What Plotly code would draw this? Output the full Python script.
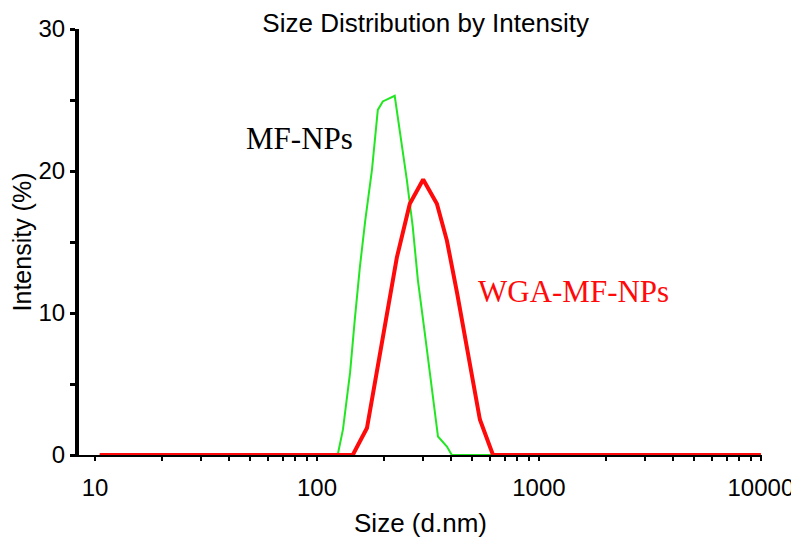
import plotly.graph_objects as go

# size (d.nm) / intensity (%)
mf_size = [10.5, 124, 131, 141, 148, 156, 165, 177, 188, 198, 224, 236, 254,
           270, 285, 306, 329, 351, 385, 405, 10000]
mf_int = [0, 0, 1.8, 5.8, 9.5, 13.2, 16.5, 20.1, 24.3, 24.9, 25.3, 22.9, 19.4,
          16.1, 12.3, 8.6, 4.8, 1.3, 0.6, 0, 0]

wga_size = [10.5, 145, 168, 186, 207, 229, 262, 301, 347, 385, 428, 474, 542,
            621, 10000]
wga_int = [0, 0, 1.9, 5.8, 10.0, 13.9, 17.7, 19.4, 17.7, 15.1, 11.4, 7.6, 2.5,
           0, 0]

x_ticks = [m * 10 ** e for e in range(1, 4) for m in range(1, 10)] + [10000]
x_labels = [str(v) if v in (10, 100, 1000, 10000) else "" for v in x_ticks]
y_ticks = [0, 5, 10, 15, 20, 25, 30]
y_labels = [str(v) if v % 10 == 0 else "" for v in y_ticks]

X_RANGE = [0.928, 4.005]
Y_RANGE = [0, 30]
SANS = "Liberation Sans, Arial, sans-serif"
SERIF = "Liberation Serif, Times New Roman, serif"

fig = go.Figure()

fig.add_trace(go.Scatter(
    x=mf_size, y=mf_int, mode="lines", name="MF-NPs",
    line=dict(color="#22e622", width=2), cliponaxis=False
))
fig.add_trace(go.Scatter(
    x=wga_size, y=wga_int, mode="lines", name="WGA-MF-NPs",
    line=dict(color="#ff0a0a", width=4), cliponaxis=False
))

axis_font = dict(family=SANS, size=24, color="black")

# page body adds an 8px offset, so the figure is 8px smaller than the window
fig.update_layout(
    width=791, height=534,
    margin=dict(l=71, r=37, t=21, b=87),
    paper_bgcolor="white", plot_bgcolor="white",
    showlegend=False,
    title=dict(text="Size Distribution by Intensity", x=0.528, xanchor="center",
               y=0.99, yanchor="top", font=dict(family=SANS, size=26, color="black")),
    xaxis=dict(
        type="log", range=X_RANGE, showgrid=False, zeroline=False,
        showline=True, linecolor="black", linewidth=2, automargin=False,
        tickmode="array", tickvals=x_ticks, ticktext=x_labels,
        ticks="outside", ticklen=4, tickwidth=1.5, tickcolor="black",
        tickfont=axis_font, ticklabelstandoff=6,
        title=dict(text="Size (d.nm)", font=dict(family=SANS, size=26, color="black"),
                   standoff=14),
    ),
    yaxis=dict(
        range=Y_RANGE, showgrid=False, zeroline=False, automargin=False,
        showline=True, linecolor="black", linewidth=4,
        tickmode="array", tickvals=y_ticks, ticktext=y_labels,
        ticks="outside", ticklen=5, tickwidth=2.5, tickcolor="black",
        tickfont=axis_font,
        title=dict(text="Intensity (%)", font=dict(family=SANS, size=25, color="black"),
                   standoff=30),
    ),
    # overlay axes give the ticks their inner half so they cross the axis line
    xaxis2=dict(
        type="log", range=X_RANGE, overlaying="x", anchor="y", side="bottom",
        showgrid=False, zeroline=False, showline=False, showticklabels=False,
        tickmode="array", tickvals=x_ticks,
        ticks="inside", ticklen=4, tickwidth=1.5, tickcolor="black",
    ),
    yaxis2=dict(
        range=Y_RANGE, overlaying="y", anchor="x", side="left",
        showgrid=False, zeroline=False, showline=False, showticklabels=False,
        tickmode="array", tickvals=y_ticks,
        ticks="inside", ticklen=7, tickwidth=2.5, tickcolor="black",
    ),
)

fig.add_annotation(
    xref="paper", yref="paper", x=(299 - 79) / 683, y=(455 - 138) / 426,
    text="MF-NPs", showarrow=False, xanchor="center", yanchor="middle",
    font=dict(family=SERIF, size=31, color="black")
)
fig.add_annotation(
    xref="paper", yref="paper", x=(573 - 79) / 683, y=(455 - 292) / 426,
    text="WGA-MF-NPs", showarrow=False, xanchor="center", yanchor="middle",
    font=dict(family=SERIF, size=31, color="#ff0a0a")
)

fig.write_html("out.html")
